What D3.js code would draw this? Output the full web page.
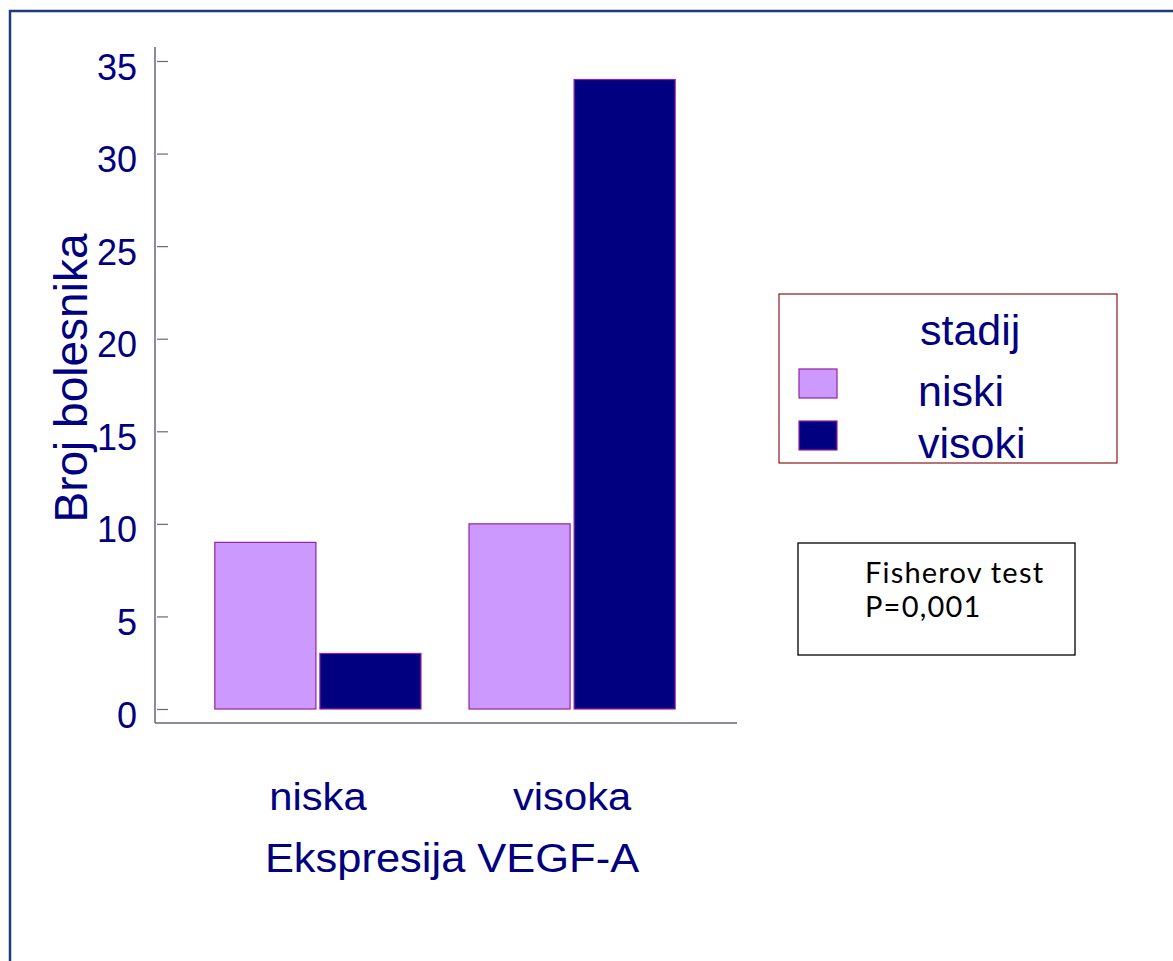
<!DOCTYPE html>
<html>
<head>
<meta charset="utf-8">
<script src="https://cdn.jsdelivr.net/npm/d3@7"></script>
<style>
  body { margin: 0; background: #fff; }
  text { font-family: "Liberation Sans", Arial, sans-serif; fill: #000080; }
</style>
</head>
<body>
<div id="plotPlaceholder1"></div>
<script>
const categories = ["niska", "visoka"]
const series = ["niski", "visoki"]
const niskiValues = [9, 10]
const visokiValues = [3, 34]
const yTicks = [0, 5, 10, 15, 20, 25, 30, 35]
const seriesColors = ["#cc99ff", "#000080"]
const statLines = ["Fisherov test", "P=0,001"]

const W = 1173, H = 961
const margin = {top: 61, bottom: 709}

const canvas = d3.select("#plotPlaceholder1").append("svg")
    .attr("width", W)
    .attr("height", H)

// slide frame
canvas.append("path")
    .attr("d", "M10," + (H + 10) + " V11 H" + (W + 10))
    .attr("fill", "none")
    .attr("stroke", "#1f3a80")
    .attr("stroke-width", 2.5)

const x0 = d3.scaleBand().domain(categories).range([164, 726]).paddingInner(0.189).paddingOuter(0.2)
const x1 = d3.scaleBand().domain(series).range([0, x0.bandwidth()]).paddingInner(0.038)
const y = d3.scaleLinear().domain([0, 35]).range([margin.bottom, margin.top])
const color = d3.scaleOrdinal().domain(series).range(seriesColors)

const rows = categories.map((c, i) => ({cat: c, values: [
  {key: "niski", value: niskiValues[i]},
  {key: "visoki", value: visokiValues[i]}
]}))

// axis lines
canvas.append("line")
    .attr("x1", 155).attr("x2", 155).attr("y1", 47).attr("y2", 723)
    .attr("stroke", "#67657e").attr("stroke-width", 1.5)
canvas.append("line")
    .attr("x1", 155).attr("x2", 737).attr("y1", 723).attr("y2", 723)
    .attr("stroke", "#67657e").attr("stroke-width", 1.5)

const yAxis = d3.axisLeft(y).tickValues(yTicks).tickSize(-11).tickPadding(19)
const gy = canvas.append("g")
    .attr("transform", "translate(157,0)")
    .call(yAxis)
gy.select(".domain").remove()
gy.selectAll(".tick line").attr("stroke", "#67657e").attr("stroke-width", 1.2)
gy.selectAll(".tick text")
    .attr("font-size", 36)
    .attr("font-family", "Liberation Sans, Arial, sans-serif")
    .attr("fill", "#000080")
    .attr("dy", "0.5em")
    .attr("x", -20)

// bars
const groups = canvas.selectAll("g.grp")
  .data(rows)
  .enter().append("g")
    .attr("class", "grp")
    .attr("transform", d => "translate(" + x0(d.cat) + ",0)")

groups.selectAll("rect")
  .data(d => d.values)
  .enter().append("rect")
    .attr("x", d => x1(d.key))
    .attr("y", d => y(d.value))
    .attr("width", x1.bandwidth())
    .attr("height", d => y(0) - y(d.value))
    .attr("fill", d => color(d.key))
    .attr("stroke", "#9a1f9e")
    .attr("stroke-width", 1.2)

// category labels
const xAxis = d3.axisBottom(x0).tickSize(0).tickPadding(59)
const gx = canvas.append("g")
    .attr("transform", "translate(0,723)")
    .call(xAxis)
gx.select(".domain").remove()
gx.selectAll(".tick text")
    .attr("font-size", 39)
    .attr("font-family", "Liberation Sans, Arial, sans-serif")
    .attr("fill", "#000080")
    .attr("transform", "scale(1.07,1)")

// X axis title
canvas.append("text")
    .attr("text-anchor", "middle")
    .attr("transform", "translate(452,872) scale(1.06,1)")
    .attr("font-size", 41)
    .text("Ekspresija VEGF-A")

// Y axis title
canvas.append("text")
    .attr("text-anchor", "middle")
    .attr("transform", "translate(87,378) rotate(-90)")
    .attr("font-size", 46)
    .text("Broj bolesnika")

// legend
canvas.append("rect")
    .attr("x", 779).attr("y", 294).attr("width", 338).attr("height", 169)
    .attr("fill", "none").attr("stroke", "#8b1a1a").attr("stroke-width", 1.2)
canvas.append("text")
    .attr("x", 920).attr("y", 345)
    .attr("font-size", 43)
    .text("stadij")
const legendY = d3.scalePoint().domain(series).range([369, 421])
series.forEach(s => {
  canvas.append("rect")
    .attr("x", 799).attr("y", legendY(s)).attr("width", 38).attr("height", 29)
    .attr("fill", color(s)).attr("stroke", "#9a1f9e").attr("stroke-width", 1.2)
  canvas.append("text")
    .attr("x", 918).attr("y", legendY(s) + 37)
    .attr("font-size", 43)
    .text(s)
})

// Fisher test box
canvas.append("rect")
    .attr("x", 798).attr("y", 543).attr("width", 277).attr("height", 112)
    .attr("fill", "none").attr("stroke", "#000").attr("stroke-width", 1.3)
statLines.forEach((t, i) => {
  canvas.append("text")
    .attr("x", 865).attr("y", 583 + i * 34)
    .attr("font-size", 29)
    .attr("letter-spacing", 1.2)
    .style("font-family", "Lato, sans-serif")
    .style("fill", "#000")
    .text(t)
})
</script>
</body>
</html>
